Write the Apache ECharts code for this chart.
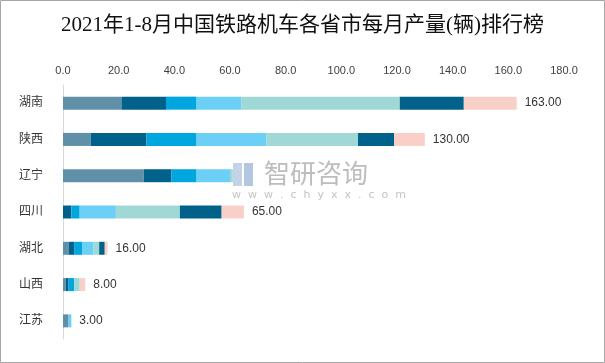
<!DOCTYPE html>
<html><head><meta charset="utf-8">
<script src="https://cdn.jsdelivr.net/npm/echarts@6/dist/echarts.min.js"></script>
<style>html,body{margin:0;padding:0;background:#fff}#c{width:605px;height:363px}</style>
</head><body><div id="c"></div>
<script>
var provinces = ['湖南','陕西','辽宁','四川','湖北','山西','江苏'];
var s1 = [21, 10, 29, 0, 2, 1, 2];
var s2 = [16, 20, 10, 3, 2, 1, 0];
var s3 = [11, 18, 9, 3, 3, 2, 0];
var s4 = [16, 25, 12, 13, 4, 0, 1];
var s5 = [57, 33, 1, 23, 2, 2, 0];
var s6 = [23, 13, 0, 15, 2, 0, 0];
var s7 = [19, 11, 0, 8, 1, 2, 0];
var totals = [163, 130, null, 65, 16, 8, 3];
var seriesNames = ['1月','2月','3月','4月','5月','6月','7月'];
var colors = ['#5f90a8','#00628a','#00a6de','#6ccff6','#a0d8d5','#00628a','#f9d0c8'];
var xTicks = {min:0, max:180, interval:20};

var FONT = "'Liberation Sans','Noto Sans CJK SC',sans-serif";
var all = [s1,s2,s3,s4,s5,s6,s7];
var series = all.map(function(d,i){
  return {name:seriesNames[i], type:'bar', stack:'t', data:d, barWidth:13,
    itemStyle:{color:colors[i]}, emphasis:{disabled:true}};
});
series.push({name:'合计', type:'bar', stack:'t', data:provinces.map(function(){return 0;}), barWidth:13,
  itemStyle:{color:'transparent'},
  label:{show:true, position:'right', distance:8, color:'#333', fontSize:12, fontFamily:FONT,
    formatter:function(p){var t=totals[p.dataIndex];return t==null?'':t.toFixed(2);}}});

var chart = echarts.init(document.getElementById('c'), null, {renderer:'canvas'});
chart.setOption({
  animation:false,
  title:{text:'2021年1-8月中国铁路机车各省市每月产量(辆)排行榜', left:'center', top:10,
    textStyle:{fontFamily:"'Liberation Serif','Noto Sans CJK SC',serif", fontSize:21, fontWeight:'normal', color:'#111'}},
  grid:{left:63, right:41, top:85, bottom:24},
  xAxis:{type:'value', position:'top', min:xTicks.min, max:xTicks.max, interval:xTicks.interval,
    axisLine:{show:false}, axisTick:{show:false}, splitLine:{show:false},
    axisLabel:{margin:9, color:'#404040', fontSize:11, fontFamily:FONT, formatter:function(v){return v.toFixed(1);}}},
  yAxis:{type:'category', inverse:true, data:provinces,
    axisLine:{lineStyle:{color:'#d9d9d9'}}, axisTick:{show:false},
    axisLabel:{margin:20, color:'#333', fontSize:12, fontFamily:FONT}},
  series:series,
  graphic:[
    {type:'rect', shape:{x:0.5,y:0.5,width:604,height:362}, style:{fill:'none', stroke:'#a6a6a6', lineWidth:1}, silent:true},
    {type:'group', left:231, top:160, z:100, children:[
      {type:'rect', shape:{x:0,y:0,width:144,height:42}, style:{fill:'#fff'}},
      {type:'rect', shape:{x:2,y:3,width:9,height:23}, style:{fill:'#c5d3e8'}},
      {type:'rect', shape:{x:13,y:3,width:9,height:23}, style:{fill:'#b4c6e0'}},
      {type:'text', style:{x:33,y:0,text:'智研咨询', fill:'#bdbdbd', font:"26px 'Noto Sans CJK SC'"}},
      {type:'text', style:{x:1,y:30,text:'w  w  w  .  c  h  y  x  x  .  c  o  m', fill:'#c4c4c4', font:"11px 'DejaVu Sans'"}}
    ]}
  ]
});
</script></body></html>
